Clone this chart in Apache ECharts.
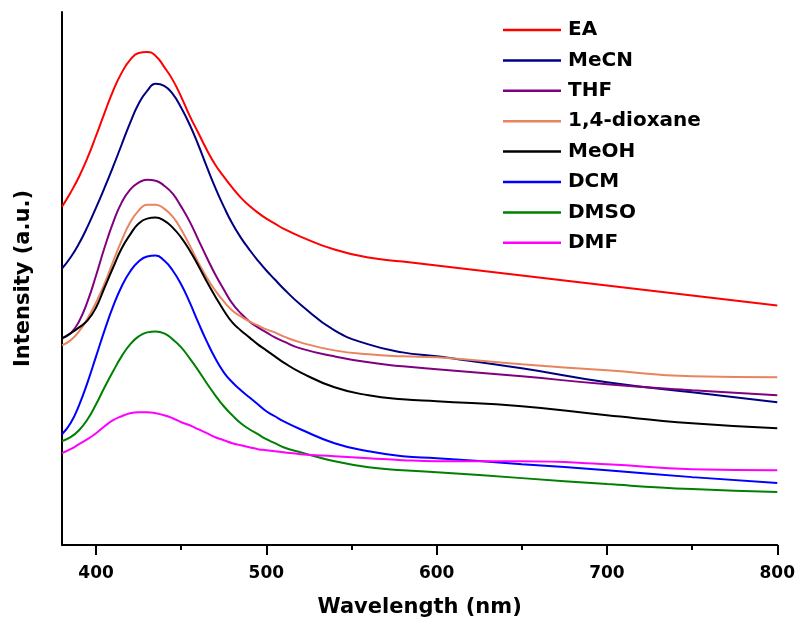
<!DOCTYPE html>
<html>
<head>
<meta charset="utf-8">
<title>Emission spectra</title>
<script src="https://cdn.jsdelivr.net/npm/echarts@6/dist/echarts.min.js"></script>
<style>
html,body{margin:0;padding:0;background:#fff;}
#main{width:798px;height:623px;}
</style>
</head>
<body>
<div id="main"></div>
<script>
// wavelength (nm) sample points, intensity in arbitrary units
var wavelength = [380,385,390,395,400,405,410,415,420,425,430,435,440,445,450,455,460,465,470,475,480,485,490,495,500,505,510,
                  520,540,560,580,600,650,700,750,800];
var xTicks = [400,500,600,700,800];

var EA      = [339,353,369,388,410,433,455,473,486,493,494,490,479,466,449,430,413,396,381,369,358,348,340,333,327,322,317,
               309,296,288,284,280,270,260,250,240];
var MeCN    = [277,288,302,319,338,358,379,401,423,442,455,462,460,452,438,421,401,379,358,339,322,308,296,285,275,266,257,
               241,215,201,193,189,177,163,153,143];
var THF     = [207,212,224,244,270,298,323,343,356,363,366,365,360,352,339,324,306,288,271,256,242,232,224,218,213,208,204,
               197,189,183,179,176,169,161,155,150];
var dioxane = [200,205,214,227,243,262,284,305,323,335,341,341,337,329,316,300,283,268,255,244,235,229,224,220,216,213,209,
               203,195,191,189,188,181,175,169,168];
var MeOH    = [207,212,218,225,238,258,278,297,311,322,327,328,325,318,308,295,280,264,249,235,223,215,208,201,195,189,183,
               173,158,150,146,144,139,130,122,117];
var DCM     = [111,122,140,163,189,215,239,259,274,284,289,290,285,275,261,243,223,204,187,173,163,155,148,141,134,129,124,
               116,102,94,89,87,81,75,68,62];
var DMSO    = [104,108,115,126,141,158,174,189,201,209,213,214,212,206,198,187,175,162,150,139,130,122,116,111,106,102,98,
               93,84,78,75,73,67,61,56,53];
var DMF     = [92,96,101,106,112,119,125,129,132,133,133,132,130,127,123,120,116,112,108,105,102,100,98,96,95,94,93,
               91,89,87,85,84,84,81,76,75];

var names  = ['EA','MeCN','THF','1,4-dioxane','MeOH','DCM','DMSO','DMF'];
var values = [EA, MeCN, THF, dioxane, MeOH, DCM, DMSO, DMF];
var colors = ['#ff0000','#000080','#800080','#e8855f','#000000','#0000ff','#008000','#ff00ff'];

function pairs(arr){
	var out = [];
	for (var i = 0; i < wavelength.length; i++) {
		out.push([wavelength[i], arr[i]]);
	}
	return out;
}

var series = [];
for (var i = 0; i < names.length; i++) {
	series.push({
		name: names[i],
		type: 'line',
		smooth: 0.5,
		showSymbol: false,
		symbol: 'none',
		lineStyle: {color: colors[i], width: 2},
		itemStyle: {color: colors[i]},
		data: pairs(values[i])
	});
}

var font = 'DejaVu Sans';
var chart = echarts.init(document.getElementById('main'));

chart.setOption({
	animation: false,
	grid: {left: 62, right: 19, top: 12, bottom: 77},
	legend: {
		orient: 'vertical',
		left: 503,
		top: 20,
		padding: 0,
		icon: 'rect',
		itemWidth: 58,
		itemHeight: 2.5,
		itemGap: 10.4,
		data: names,
		textStyle: {
			fontFamily: font,
			fontWeight: 'bold',
			fontSize: 20,
			lineHeight: 20,
			color: '#000',
			padding: [0, 0, 0, 2]
		}
	},
	xAxis: {
		type: 'value',
		min: 380,
		max: 800,
		name: 'Wavelength (nm)',
		nameLocation: 'middle',
		nameGap: 52,
		nameTextStyle: {fontFamily: font, fontWeight: 'bold', fontSize: 21, color: '#000'},
		axisLine: {show: true, onZero: false, lineStyle: {color: '#000', width: 2}},
		axisTick: {show: true, inside: false, length: 10, customValues: xTicks, lineStyle: {color: '#000', width: 2}},
		minorTick: {show: true, splitNumber: 2, length: 5, lineStyle: {color: '#000', width: 2}},
		axisLabel: {customValues: xTicks, margin: 20, fontFamily: font, fontWeight: 'bold', fontSize: 17, color: '#000'},
		splitLine: {show: false},
		minorSplitLine: {show: false}
	},
	yAxis: {
		type: 'value',
		min: 0,
		max: 534,
		name: 'Intensity (a.u.)',
		nameLocation: 'middle',
		nameGap: 28,
		nameTextStyle: {fontFamily: font, fontWeight: 'bold', fontSize: 21, color: '#000'},
		axisLine: {show: true, lineStyle: {color: '#000', width: 2}},
		axisTick: {show: false},
		axisLabel: {show: false},
		splitLine: {show: false}
	},
	series: series
});
</script>
</body>
</html>
